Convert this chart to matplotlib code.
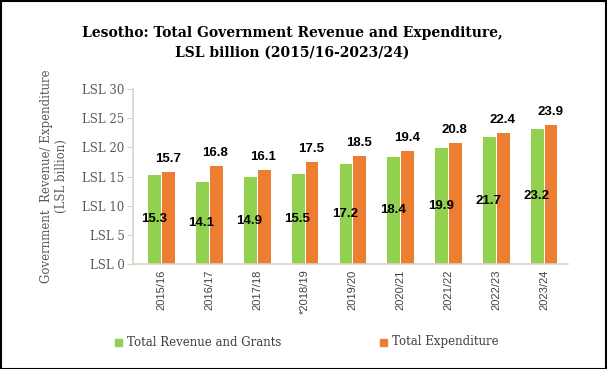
import matplotlib
matplotlib.use("Agg")
import matplotlib.pyplot as plt
from matplotlib.patches import Rectangle
import numpy as np

categories = ["2015/16", "2016/17", "2017/18", "*2018/19", "2019/20",
              "2020/21", "2021/22", "2022/23", "2023/24"]
revenue = [15.3, 14.1, 14.9, 15.5, 17.2, 18.4, 19.9, 21.7, 23.2]
expenditure = [15.7, 16.8, 16.1, 17.5, 18.5, 19.4, 20.8, 22.4, 23.9]
yticks = [0, 5, 10, 15, 20, 25, 30]
ytick_labels = ["LSL 0", "LSL 5", "LSL 10", "LSL 15", "LSL 20", "LSL 25", "LSL 30"]

GREEN = "#92D050"
ORANGE = "#ED7D31"
AXIS = "#D9D3C3"
TXT = "#404040"
SERIF = ["DejaVu Serif"]
SANS = ["Liberation Sans", "DejaVu Sans"]

W, H = 607, 369
fig = plt.figure(figsize=(W / 100, H / 100), dpi=100)
ax = fig.add_axes([133 / W, 1 - 264 / H, (568 - 133) / W, (264 - 89) / H])

x = np.arange(len(categories))
bw = 0.27
off = 0.145
ax.bar(x - off, revenue, width=bw, color=GREEN, zorder=2)
ax.bar(x + off, expenditure, width=bw, color=ORANGE, zorder=2)

for xi, r, e in zip(x, revenue, expenditure):
    ax.text(xi - off - 0.02, r / 2, f"{r}", ha="center", va="center",
            fontsize=9.5, fontweight="bold", family=SANS, color="black")
    ax.annotate(f"{e}", (xi + off - 0.02, e), xytext=(0, 5),
                textcoords="offset points", ha="center", va="bottom",
                fontsize=9.5, fontweight="bold", family=SANS, color="black")

ax.set_xlim(-0.6, 8.5)
ax.set_ylim(0, 30)
ax.set_yticks(yticks)
ax.set_yticklabels(ytick_labels, family=SERIF, fontsize=8.5, color="#595959")
ax.set_xticks(x)
ax.set_xticklabels(categories, rotation=90, family=SANS, fontsize=8, color=TXT)
ax.tick_params(axis="y", length=4, color=AXIS, pad=2)
ax.tick_params(axis="x", length=0, pad=4)
for s in ["top", "right"]:
    ax.spines[s].set_visible(False)
ax.spines["left"].set_color(AXIS)
ax.spines["bottom"].set_color(AXIS)
ax.spines["left"].set_linewidth(1.2)
ax.spines["bottom"].set_linewidth(1.2)

ax.set_ylabel("Government  Revenue/ Expenditure\n(LSL billion)", family=SERIF,
              fontsize=8.5, color="#595959", labelpad=10)

fig.text(292 / W, 1 - 33 / H, "Lesotho: Total Government Revenue and Expenditure,",
         ha="center", va="center", family=SERIF, fontweight="bold", fontsize=10,
         color="black")
fig.text(292 / W, 1 - 53 / H, "LSL billion (2015/16-2023/24)",
         ha="center", va="center", family=SERIF, fontweight="bold", fontsize=10,
         color="black")

# legend
for lx, col, lab in [(115, GREEN, "Total Revenue and Grants"),
                     (380, ORANGE, "Total Expenditure")]:
    fig.patches.append(Rectangle((lx / W, 1 - 346 / H), 7 / W, 7 / H,
                                 transform=fig.transFigure, color=col))
    fig.text((lx + 12) / W, 1 - 342 / H, lab, ha="left", va="center",
             family=SERIF, fontsize=8.5, color=TXT)

fig.patches.append(Rectangle((0.5 / W, 0.5 / H), (W - 1.5) / W, (H - 1.5) / H,
                             transform=fig.transFigure, fill=False,
                             edgecolor="black", linewidth=1.5))

fig.savefig("out.png", dpi=100)
